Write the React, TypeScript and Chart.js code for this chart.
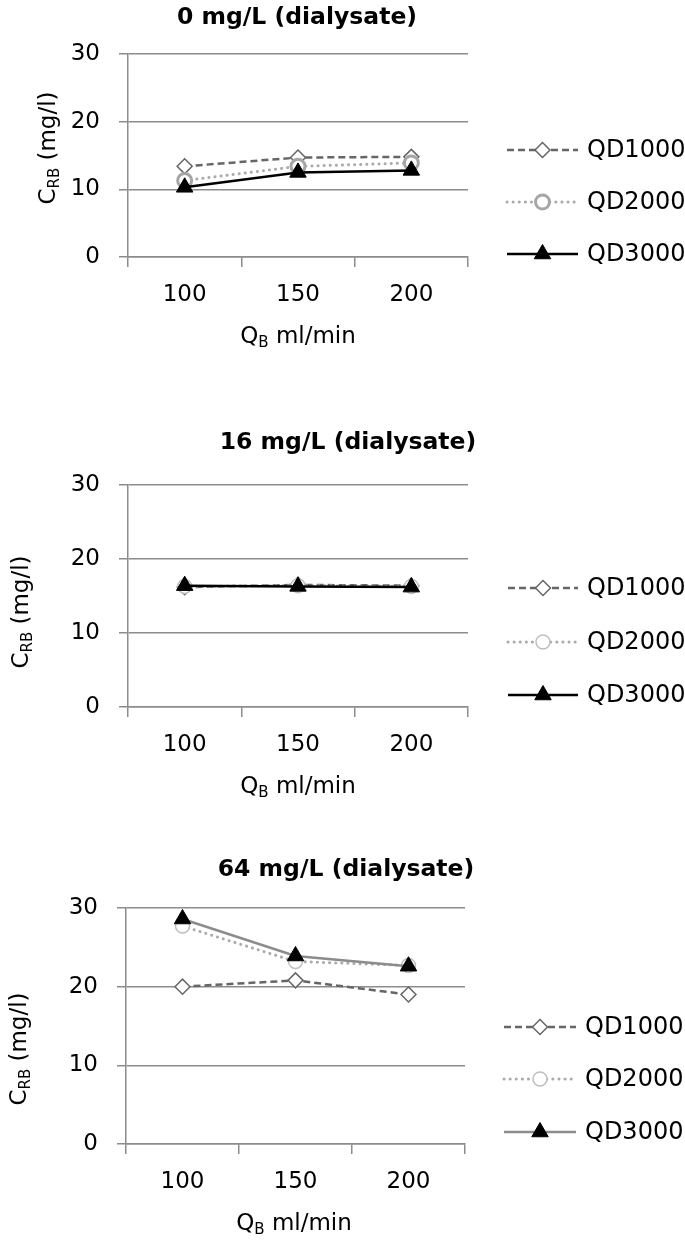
import React, { useEffect, useRef } from "react";
import { Chart, registerables } from "chart.js";

Chart.register(...registerables);

const categories = ["100", "150", "200"];
const seriesNames = ["QD1000", "QD2000", "QD3000"];

const c0_qd1000 = [13.4, 14.7, 14.8];
const c0_qd2000 = [11.3, 13.4, 13.9];
const c0_qd3000 = [10.3, 12.5, 12.8];

const c16_qd1000 = [16.2, 16.5, 16.4];
const c16_qd2000 = [16.3, 16.4, 16.3];
const c16_qd3000 = [16.4, 16.3, 16.2];

const c64_qd1000 = [20.0, 20.8, 19.0];
const c64_qd2000 = [27.7, 23.2, 22.7];
const c64_qd3000 = [28.6, 23.9, 22.6];

const titles = ["0 mg/L (dialysate)", "16 mg/L (dialysate)", "64 mg/L (dialysate)"];
const yMin = 0;
const yMax = 30;
const yStep = 10;

const FONT = '"DejaVu Sans", sans-serif';
const GRID = "#8c8c8c";
const TXT = 23;

type Layout = {
  top: number;
  height: number;
  L: number;
  R: number;
  T: number;
  B: number;
  titleX: number;
  titleY: number;
  xTitleX: number;
  xTitleY: number;
  yTitleX: number;
  yTitleY: number;
  legX1: number;
  legX2: number;
  legTextX: number;
  legYs: number[];
  line3Color: string;
  circleColor: string;
  circleWidth: number;
};

const layouts: Layout[] = [
  {
    top: 0, height: 400, L: 128, R: 468, T: 54, B: 257,
    titleX: 297, titleY: 18, xTitleX: 298, xTitleY: 335, yTitleX: 47, yTitleY: 148,
    legX1: 507, legX2: 578, legTextX: 587, legYs: [150, 202, 254],
    line3Color: "#000000", circleColor: "#a6a6a6", circleWidth: 3,
  },
  {
    top: 400, height: 420, L: 128, R: 468, T: 85, B: 307,
    titleX: 348, titleY: 43, xTitleX: 298, xTitleY: 385, yTitleX: 20, yTitleY: 212,
    legX1: 508, legX2: 578, legTextX: 587, legYs: [188, 242, 295],
    line3Color: "#000000", circleColor: "#bfbfbf", circleWidth: 1.5,
  },
  {
    top: 820, height: 421, L: 126, R: 465, T: 88, B: 324,
    titleX: 346, titleY: 50, xTitleX: 294, xTitleY: 402, yTitleX: 18, yTitleY: 229,
    legX1: 504, legX2: 576, legTextX: 585, legYs: [207, 259, 312],
    line3Color: "#8c8c8c", circleColor: "#bfbfbf", circleWidth: 1.5,
  },
];

const chartData = [
  [c0_qd1000, c0_qd2000, c0_qd3000],
  [c16_qd1000, c16_qd2000, c16_qd3000],
  [c64_qd1000, c64_qd2000, c64_qd3000],
];

function drawSubText(ctx: CanvasRenderingContext2D, main: string, sub: string, rest: string, cx: number, baseline: number) {
  ctx.font = `${TXT}px ${FONT}`;
  const w1 = ctx.measureText(main).width;
  const w3 = ctx.measureText(rest).width;
  ctx.font = `15px ${FONT}`;
  const w2 = ctx.measureText(sub).width;
  const total = w1 + w2 + w3;
  let x = cx - total / 2;
  ctx.textAlign = "left";
  ctx.textBaseline = "alphabetic";
  ctx.font = `${TXT}px ${FONT}`;
  ctx.fillText(main, x, baseline);
  x += w1;
  ctx.font = `15px ${FONT}`;
  ctx.fillText(sub, x, baseline + 4);
  x += w2;
  ctx.font = `${TXT}px ${FONT}`;
  ctx.fillText(rest, x, baseline);
}

function drawMarker(ctx: CanvasRenderingContext2D, style: string, x: number, y: number, r: number, fill: string, stroke: string, lw: number) {
  ctx.beginPath();
  if (style === "rectRot") {
    ctx.moveTo(x - r, y);
    ctx.lineTo(x, y - r);
    ctx.lineTo(x + r, y);
    ctx.lineTo(x, y + r);
    ctx.closePath();
  } else if (style === "circle") {
    ctx.arc(x, y, r, 0, Math.PI * 2);
  } else {
    const h = r * 1.5;
    const w = r * Math.sqrt(3);
    ctx.moveTo(x, y - r);
    ctx.lineTo(x + w / 2, y - r + h);
    ctx.lineTo(x - w / 2, y - r + h);
    ctx.closePath();
  }
  ctx.setLineDash([]);
  ctx.fillStyle = fill;
  ctx.fill();
  ctx.lineWidth = lw;
  ctx.strokeStyle = stroke;
  ctx.stroke();
}

function makeOverlay(idx: number) {
  const lay = layouts[idx];
  return {
    id: "overlay" + idx,
    afterDraw(chart: any) {
      const ctx: CanvasRenderingContext2D = chart.ctx;
      ctx.save();
      ctx.fillStyle = "#000";
      ctx.font = `bold 23.5px ${FONT}`;
      ctx.textAlign = "center";
      ctx.textBaseline = "middle";
      ctx.fillText(titles[idx], lay.titleX, lay.titleY);

      drawSubText(ctx, "Q", "B", " ml/min", lay.xTitleX, lay.xTitleY + 8);

      ctx.save();
      ctx.translate(lay.yTitleX, lay.yTitleY);
      ctx.rotate(-Math.PI / 2);
      drawSubText(ctx, "C", "RB", " (mg/l)", 0, 8);
      ctx.restore();

      chart.data.datasets.forEach((ds: any, i: number) => {
        const y = lay.legYs[i];
        ctx.beginPath();
        ctx.setLineDash(ds.borderDash || []);
        ctx.lineCap = ds.borderCapStyle || "butt";
        ctx.strokeStyle = ds.borderColor;
        ctx.lineWidth = ds.borderWidth;
        ctx.moveTo(lay.legX1, y);
        ctx.lineTo(lay.legX2, y);
        ctx.stroke();
        ctx.lineCap = "butt";
        drawMarker(ctx, ds.pointStyle, (lay.legX1 + lay.legX2) / 2, y, ds.pointRadius, ds.pointBackgroundColor, ds.pointBorderColor, ds.pointBorderWidth);
        ctx.fillStyle = "#000";
        ctx.font = `24px ${FONT}`;
        ctx.textAlign = "left";
        ctx.textBaseline = "middle";
        ctx.fillText(ds.label, lay.legTextX, y + 1);
      });
      ctx.restore();
    },
  };
}

function ChartPanel({ idx }: { idx: number }) {
  const ref = useRef<HTMLCanvasElement>(null);
  useEffect(() => {
    const lay = layouts[idx];
    const vals = chartData[idx];
    const chart = new Chart(ref.current as HTMLCanvasElement, {
      type: "line",
      data: {
        labels: categories,
        datasets: [
          {
            label: seriesNames[0],
            data: vals[0],
            borderColor: "#666666",
            borderWidth: 2.5,
            borderDash: [7, 4],
            pointStyle: "rectRot",
            pointRadius: 7.5,
            pointBackgroundColor: "#ffffff",
            pointBorderColor: "#666666",
            pointBorderWidth: 1.5,
            tension: 0,
            order: 3,
            clip: false,
          },
          {
            label: seriesNames[1],
            data: vals[1],
            borderColor: "#aaaaaa",
            borderWidth: 3,
            borderDash: [0.1, 6],
            borderCapStyle: "round",
            pointStyle: "circle",
            pointRadius: 7,
            pointBackgroundColor: "#ffffff",
            pointBorderColor: lay.circleColor,
            pointBorderWidth: lay.circleWidth,
            tension: 0,
            order: 2,
            clip: false,
          },
          {
            label: seriesNames[2],
            data: vals[2],
            borderColor: lay.line3Color,
            borderWidth: 2.5,
            pointStyle: "triangle",
            pointRadius: 9.5,
            pointBackgroundColor: "#000000",
            pointBorderColor: "#000000",
            pointBorderWidth: 1,
            tension: 0,
            order: 1,
            clip: false,
          },
        ] as any,
      },
      options: {
        animation: false,
        responsive: false,
        events: [],
        layout: { padding: { left: 0, top: lay.T, right: 685 - lay.R, bottom: 0 } },
        plugins: { legend: { display: false }, tooltip: { enabled: false }, title: { display: false } },
        scales: {
          x: {
            type: "category",
            offset: true,
            afterFit: (s: any) => { s.height = lay.height - lay.B; },
            grid: { display: true, offset: true, drawOnChartArea: false, drawTicks: true, tickLength: 10, color: GRID, lineWidth: 1.5 },
            border: { display: true, color: GRID, width: 1.5 },
            ticks: { color: "#000", font: { family: FONT, size: TXT }, padding: 14, maxRotation: 0 },
          },
          y: {
            min: yMin,
            max: yMax,
            afterFit: (s: any) => { s.width = lay.L; },
            grid: { display: true, drawTicks: true, tickLength: 9, color: GRID, lineWidth: 1.5 },
            border: { display: true, color: GRID, width: 1.5 },
            ticks: { stepSize: yStep, color: "#000", font: { family: FONT, size: TXT }, padding: 19 },
          },
        },
      } as any,
      plugins: [makeOverlay(idx)],
    });
    return () => chart.destroy();
  }, [idx]);
  const lay = layouts[idx];
  return (
    <canvas
      ref={ref}
      width={685}
      height={lay.height}
      style={{ position: "absolute", left: 0, top: lay.top, width: 685, height: lay.height }}
    />
  );
}

export default function App() {
  return (
    <div style={{ position: "absolute", left: 0, top: 0, width: 685, height: 1241, background: "#fff" }}>
      <ChartPanel idx={0} />
      <ChartPanel idx={1} />
      <ChartPanel idx={2} />
    </div>
  );
}
